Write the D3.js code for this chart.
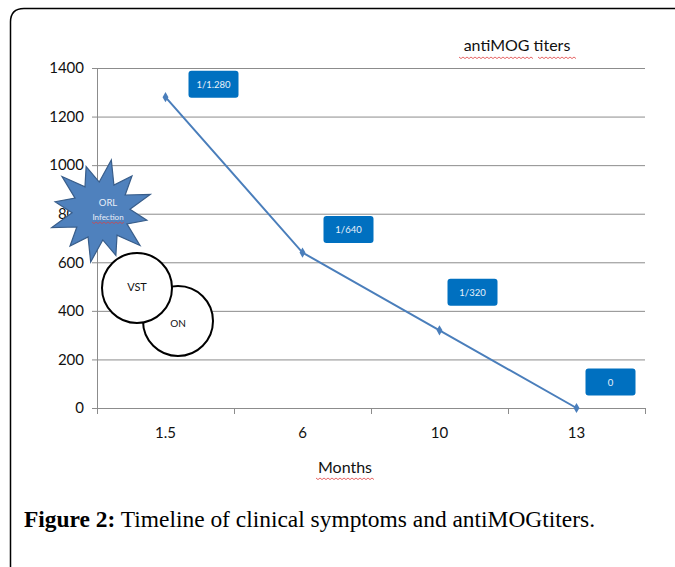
<!DOCTYPE html>
<html lang="en">
<head>
<meta charset="UTF-8">
<title>antiMOG titers</title>
<script src="https://d3js.org/d3.v7.min.js"></script>
<style>
  body { margin: 0; background: #fff; }
  svg { display: block; }
</style>
</head>
<body>
<div id="chart"></div>
<script>
// chart data
const months = ["1.5", "6", "10", "13"];
const titers = [1280, 640, 320, 0];
const titerLabels = ["1/1.280", "1/640", "1/320", "0"];
const yTicks = [0, 200, 400, 600, 800, 1000, 1200, 1400];

// label box offsets from each point (px), placed by hand in the original
const labelOffsets = [[48, -13], [46, -23], [33, -38], [34, -26]];

const W = 675, H = 567;
const margin = { top: 68, right: 30, bottom: 159, left: 97 };
const width = 645 - margin.left;
const height = 408 - margin.top;

const svg = d3.select("#chart").append("svg")
    .attr("width", W).attr("height", H);

// outer frame
svg.append("path")
    .attr("d", `M10.5,${H + 5} L10.5,22 Q10.5,8.5 24,8.5 L${W + 5},8.5`)
    .attr("fill", "none").attr("stroke", "#000").attr("stroke-width", 1.5);

const g = svg.append("g").attr("transform", `translate(${margin.left},${margin.top})`);

const x = d3.scaleBand().domain(months).range([0, width]);
const y = d3.scaleLinear().domain([0, 1400]).range([height, 0]);

// gridlines
g.selectAll(".grid").data(yTicks.slice(1)).enter().append("line")
    .attr("x1", 0).attr("x2", width)
    .attr("y1", d => y(d) + 0.5).attr("y2", d => y(d) + 0.5)
    .attr("stroke", "#8c8c8c");

// y axis
const yAxis = g.append("g")
    .call(d3.axisLeft(y).tickValues(yTicks).tickFormat(d3.format("d")).tickSize(5).tickPadding(8));
yAxis.select(".domain").attr("stroke", "#8c8c8c");
yAxis.selectAll(".tick line").attr("stroke", "#8c8c8c");
yAxis.selectAll("text")
    .attr("font-family", "Lato, 'Open Sans', sans-serif")
    .attr("font-size", 15).attr("fill", "#111");

// x axis: ticks on band edges
const xAxis = g.append("g").attr("transform", `translate(0,${height})`);
xAxis.append("line").attr("x1", 0).attr("x2", width).attr("y1", 0.5).attr("y2", 0.5)
    .attr("stroke", "#8c8c8c");
const edges = months.map(m => x(m)).concat([width]);
xAxis.selectAll(".edge").data(edges).enter().append("line")
    .attr("x1", d => d + 0.5).attr("x2", d => d + 0.5)
    .attr("y1", 0).attr("y2", 6).attr("stroke", "#8c8c8c");
xAxis.selectAll(".lbl").data(months).enter().append("text")
    .attr("x", d => x(d) + x.bandwidth() / 2)
    .attr("y", 30)
    .attr("text-anchor", "middle")
    .attr("font-family", "Lato, 'Open Sans', sans-serif")
    .attr("font-size", 15).attr("fill", "#111")
    .text(d => d);

// axis title
g.append("text")
    .attr("x", width / 2 - 26).attr("y", height + 65)
    .attr("text-anchor", "middle")
    .attr("font-family", "Lato, 'Open Sans', sans-serif")
    .attr("font-size", 16).attr("fill", "#111")
    .text("Months");

// chart title
svg.append("text")
    .attr("x", 517).attr("y", 51)
    .attr("text-anchor", "middle")
    .attr("font-family", "Lato, 'Open Sans', sans-serif")
    .attr("font-size", 16).attr("fill", "#111")
    .text("antiMOG titers");

// red squiggles (spell check marks)
function squiggle(x0, x1, yy) {
    let d = `M${x0},${yy}`;
    for (let xx = x0, k = 0; xx < x1; xx += 2, k++) d += ` L${xx + 2},${yy + (k % 2 ? 0 : 1.6)}`;
    return d;
}
[[459, 533, 57], [538, 575, 57], [316, 374, 478]].forEach(s => {
    svg.append("path").attr("d", squiggle(s[0], s[1], s[2]))
        .attr("fill", "none").attr("stroke", "#e04040").attr("stroke-width", 0.8);
});

// line
const pts = months.map((m, i) => [x(m) + x.bandwidth() / 2, y(titers[i])]);
g.append("path")
    .attr("d", d3.line()(pts))
    .attr("fill", "none").attr("stroke", "#4a7ebb").attr("stroke-width", 2);
g.selectAll(".mk").data(pts).enter().append("path")
    .attr("d", d3.symbol(d3.symbolDiamond, 30)())
    .attr("transform", d => `translate(${d[0]},${d[1]})`)
    .attr("fill", "#4a7ebb");

// data label boxes
const boxW = 50, boxH = 27;
pts.forEach((p, i) => {
    const cx = p[0] + labelOffsets[i][0], cy = p[1] + labelOffsets[i][1];
    g.append("rect")
        .attr("x", cx - boxW / 2).attr("y", cy - boxH / 2)
        .attr("width", boxW).attr("height", boxH).attr("rx", 3)
        .attr("fill", "#0070c0");
    g.append("text")
        .attr("x", cx).attr("y", cy + 3.5)
        .attr("text-anchor", "middle")
        .attr("font-family", "Lato, 'Open Sans', sans-serif")
        .attr("font-size", 9.5).attr("fill", "#e8f0fa")
        .text(titerLabels[i]);
});

// clinical events: circles
[["ON", 178, 321], ["VST", 137, 288]].forEach(c => {
    svg.append("circle").attr("cx", c[1]).attr("cy", c[2]).attr("r", 35)
        .attr("fill", "#fff").attr("stroke", "#000").attr("stroke-width", 2);
    svg.append("text")
        .attr("x", c[1]).attr("y", c[2] + (c[0] === "ON" ? 6 : 3))
        .attr("text-anchor", "middle")
        .attr("font-family", "Lato, 'Open Sans', sans-serif")
        .attr("font-size", c[0] === "ON" ? 10 : 11).attr("fill", "#111")
        .text(c[0]);
});

// starburst for ORL infection
const nPts = 12, rOut = 52, rIn = 29, sc = [101, 211];
const star = d3.range(nPts * 2).map(k => {
    const a = -Math.PI / 2 + k * Math.PI / nPts + 0.2;
    const r = k % 2 === 0 ? rOut * (k % 4 === 0 ? 1 : 0.9) : rIn;
    return [sc[0] + r * Math.cos(a), sc[1] + r * Math.sin(a)];
});
svg.append("path")
    .attr("d", d3.line().curve(d3.curveLinearClosed)(star))
    .attr("fill", "#4f81bd").attr("stroke", "#385d8a").attr("stroke-width", 1.2);
svg.append("text").attr("x", 108).attr("y", 206).attr("text-anchor", "middle")
    .attr("font-family", "Lato, 'Open Sans', sans-serif").attr("font-size", 9.5)
    .attr("fill", "#e8eef8").text("ORL");
svg.append("text").attr("x", 108).attr("y", 220).attr("text-anchor", "middle")
    .attr("font-family", "Lato, 'Open Sans', sans-serif").attr("font-size", 8)
    .attr("fill", "#e8eef8").text("Infection");
svg.append("path").attr("d", squiggle(92, 124, 222))
    .attr("fill", "none").attr("stroke", "#e04040").attr("stroke-width", 0.7);

// caption
const cap = svg.append("text").attr("x", 24).attr("y", 527)
    .attr("font-family", "'Liberation Serif', 'DejaVu Serif', serif")
    .attr("font-size", 23.5).attr("fill", "#000")
    .attr("textLength", 571).attr("lengthAdjust", "spacingAndGlyphs");
cap.append("tspan").attr("font-weight", "bold").text("Figure 2:");
cap.append("tspan").text(" Timeline of clinical symptoms and antiMOGtiters.");
</script>
</body>
</html>
